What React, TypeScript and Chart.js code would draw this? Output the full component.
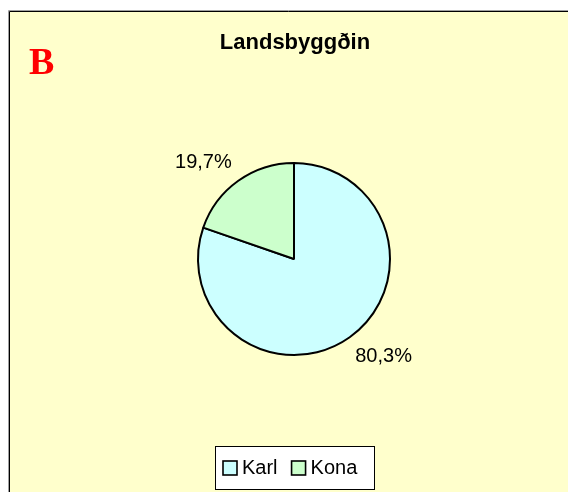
import React, { useEffect, useRef } from "react";
import { Chart, registerables } from "chart.js";

Chart.register(...registerables);

const categories: string[] = ["Karl", "Kona"];
const values: number[] = [80.3, 19.7];
const sliceColors: string[] = ["#CCFFFF", "#CCFFCC"];
const chartTitle = "Landsbyggðin";
const panelLetter = "B";

const W = 568;
const H = 492;

function fmtPct(v: number): string {
  return v.toFixed(1).replace(".", ",") + "%";
}

const framePlugin = {
  id: "frame",
  beforeDraw(chart: any) {
    const ctx = chart.ctx;
    ctx.save();
    ctx.fillStyle = "#FFFFFF";
    ctx.fillRect(0, 0, W, H);
    ctx.fillStyle = "#FFFFCC";
    ctx.fillRect(10, 12, W, H);
    ctx.strokeStyle = "#A0A0A0";
    ctx.lineWidth = 1;
    ctx.beginPath();
    ctx.moveTo(8.5, H);
    ctx.lineTo(8.5, 10.5);
    ctx.lineTo(W, 10.5);
    ctx.stroke();
    ctx.strokeStyle = "#000000";
    ctx.beginPath();
    ctx.moveTo(9.5, H);
    ctx.lineTo(9.5, 11.5);
    ctx.lineTo(W, 11.5);
    ctx.stroke();

    // panel letter
    ctx.fillStyle = "#FF0000";
    ctx.font = "bold 38px 'Liberation Serif', 'Times New Roman', serif";
    ctx.textAlign = "left";
    ctx.textBaseline = "alphabetic";
    ctx.fillText(panelLetter, 29, 73.5);

    // title
    const area = chart.chartArea;
    const cx = (area.left + area.right) / 2;
    ctx.fillStyle = "#000000";
    ctx.font = "bold 22px 'Liberation Sans', Arial, sans-serif";
    ctx.textAlign = "center";
    ctx.fillText(chartTitle, cx + 1, 48.5);
    ctx.restore();
  },
  afterDraw(chart: any) {
    const ctx = chart.ctx;
    const meta = chart.getDatasetMeta(0);
    const ds = chart.data.datasets[0];
    ctx.save();
    ctx.fillStyle = "#000000";
    ctx.font = "20px 'Liberation Sans', Arial, sans-serif";
    const capH = 14.3;
    meta.data.forEach((arc: any, i: number) => {
      const p = arc.getProps(["x", "y", "startAngle", "endAngle", "outerRadius"], true);
      const mid = (p.startAngle + p.endAngle) / 2;
      const ux = Math.cos(mid);
      const uy = Math.sin(mid);
      const d = p.outerRadius + 13;
      const px = p.x + ux * d;
      const py = p.y + uy * d;
      ctx.textAlign = ux < 0 ? "right" : "left";
      ctx.textBaseline = "alphabetic";
      const by = uy < 0 ? py - 2 : py + capH;
      ctx.fillText(fmtPct(ds.data[i] as number), ux < 0 ? px + 1 : px - 2, by);
    });

    // legend
    const area = chart.chartArea;
    const cx = (area.left + area.right) / 2;
    const boxW = 159;
    const boxH = 43;
    const boxX = Math.round(cx - boxW / 2) + 0.5;
    const boxY = 446.5;
    ctx.fillStyle = "#FFFFFF";
    ctx.fillRect(boxX, boxY, boxW, boxH);
    ctx.strokeStyle = "#000000";
    ctx.lineWidth = 1;
    ctx.strokeRect(boxX, boxY, boxW, boxH);
    let x = boxX + 7.5;
    const sq = 14;
    const sqY = 461;
    categories.forEach((lab, i) => {
      ctx.fillStyle = sliceColors[i];
      ctx.fillRect(x, sqY, sq, sq);
      ctx.strokeStyle = "#000000";
      ctx.lineWidth = 1.6;
      ctx.strokeRect(x, sqY, sq, sq);
      ctx.fillStyle = "#000000";
      ctx.textAlign = "left";
      ctx.textBaseline = "alphabetic";
      ctx.fillText(lab, x + sq + 5, 474);
      x += sq + 5 + ctx.measureText(lab).width + 14;
    });
    ctx.restore();
  },
};

export default function App() {
  const ref = useRef<HTMLCanvasElement | null>(null);
  useEffect(() => {
    if (!ref.current) return;
    const chart = new Chart(ref.current, {
      type: "pie",
      data: {
        labels: categories,
        datasets: [
          {
            data: values,
            backgroundColor: sliceColors,
            borderColor: "#000000",
            borderWidth: 2,
          },
        ],
      },
      options: {
        responsive: false,
        animation: false,
        devicePixelRatio: 1,
        layout: { padding: { left: 197, top: 162, right: 177, bottom: 136 } },
        plugins: {
          legend: { display: false },
          tooltip: { enabled: false },
          title: { display: false },
        },
      },
      plugins: [framePlugin],
    });
    return () => chart.destroy();
  }, []);
  return (
    <div style={{ position: "absolute", left: 0, top: 0, width: W, height: H }}>
      <canvas ref={ref} width={W} height={H} style={{ display: "block", width: W, height: H }} />
    </div>
  );
}
